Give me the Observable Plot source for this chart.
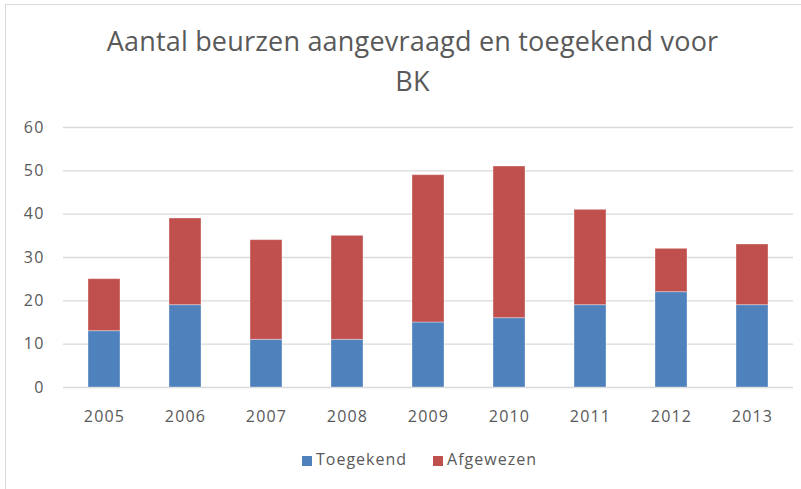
<!DOCTYPE html>
<html><head><meta charset="utf-8">
<script src="https://cdn.jsdelivr.net/npm/d3@7"></script>
<script src="https://cdn.jsdelivr.net/npm/@observablehq/plot@0.6"></script>
<style>
body{margin:0;background:#fff;font-family:"Open Sans",sans-serif;}
#wrap{position:relative;width:801px;height:489px;overflow:hidden;}
#frame{position:absolute;left:5px;top:4px;width:820px;height:520px;border:1px solid #d9d9d9;box-sizing:border-box;}
#title{position:absolute;left:12px;top:21px;width:801px;text-align:center;color:#595959;font-size:27px;line-height:40px;font-weight:400;letter-spacing:0.2px;}
#chart{position:absolute;left:0;top:105px;}
#legend{position:absolute;left:302px;top:447px;white-space:nowrap;color:#595959;font-size:16px;letter-spacing:1px;line-height:24px;}
.sw{display:inline-block;width:10px;height:10px;margin-right:4px;vertical-align:-0.5px;}
.item{display:inline-block;margin-right:26px;}
</style></head>
<body><div id="wrap"><div id="frame"></div>
<div id="title">Aantal beurzen aangevraagd en toegekend voor<br>BK</div>
<div id="chart"></div>
<div id="legend"></div>
</div>
<script>
const years = ["2005","2006","2007","2008","2009","2010","2011","2012","2013"];
const toegekend = [13,19,11,11,15,16,19,22,19];
const afgewezen = [12,20,23,24,34,35,22,10,14];
const seriesNames = ["Toegekend","Afgewezen"];
const seriesColors = ["#4f81bd","#c0504d"];
const yTicks = [0,10,20,30,40,50,60];

const data = [];
years.forEach((y,i)=>{
  data.push({year:y, series:seriesNames[0], value:toegekend[i]});
  data.push({year:y, series:seriesNames[1], value:afgewezen[i]});
});

const plot = Plot.plot({
  width:801, height:325,
  marginTop:22, marginBottom:43, marginLeft:63, marginRight:8,
  style:{fontFamily:"Open Sans, sans-serif", fontSize:"16px", color:"#595959", background:"transparent", letterSpacing:"1.2px"},
  x:{domain:years, paddingInner:0.6, paddingOuter:0.3, label:null},
  y:{domain:[0,60], ticks:yTicks, label:null},
  color:{domain:seriesNames, range:seriesColors},
  marks:[
    Plot.gridY(yTicks,{stroke:"#d9d9d9", strokeOpacity:1, strokeWidth:1.3}),
    Plot.barY(data,{x:"year", y:"value", fill:"series", stroke:"#ffffff", strokeOpacity:0.35, strokeWidth:1}),
    Plot.axisY(yTicks,{tickSize:0, tickPadding:19, fontSize:16, fill:"#595959"}),
    Plot.axisX({tickSize:0, tickPadding:23, fontSize:16, fill:"#595959"})
  ]
});
document.getElementById("chart").appendChild(plot);

const leg = document.getElementById("legend");
seriesNames.forEach((n,i)=>{
  const s=document.createElement("span"); s.className="item";
  s.innerHTML=`<span class="sw" style="background:${seriesColors[i]}"></span>${n}`;
  leg.appendChild(s);
});
</script>
</body></html>
